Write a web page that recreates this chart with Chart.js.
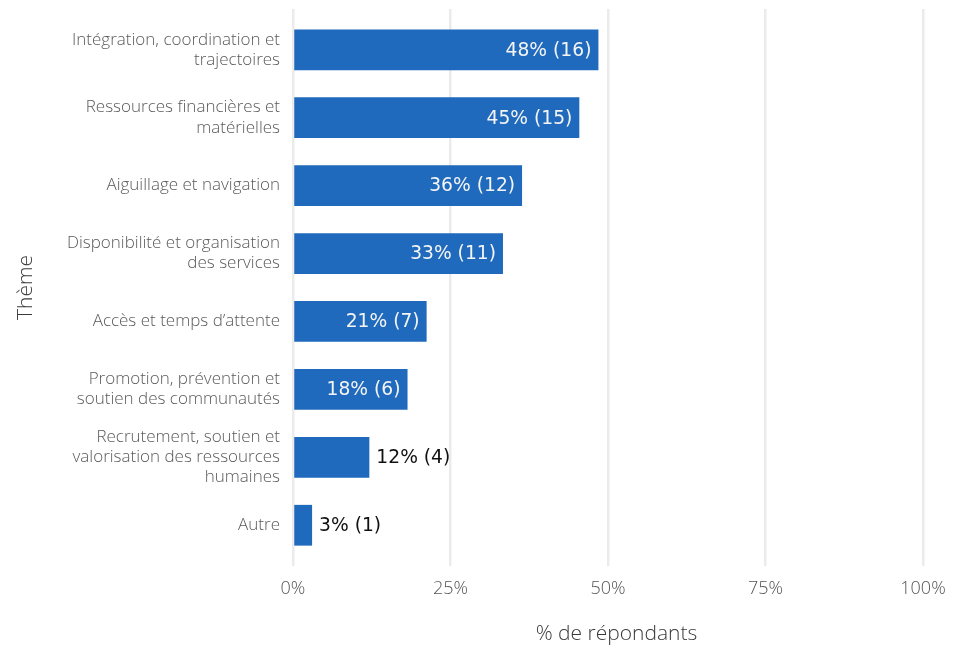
<!DOCTYPE html>
<html lang="fr">
<head>
<meta charset="utf-8">
<script src="https://cdn.jsdelivr.net/npm/chart.js@4"></script>
<style>
  html, body { margin: 0; padding: 0; background: #fff; }
  #wrap { width: 961px; height: 647px; }
</style>
</head>
<body>
<div id="wrap"><canvas id="themes" width="961" height="647"></canvas></div>
<script>
// thèmes (multi-line labels), from top to bottom
const categories = [
  ['Intégration, coordination et', 'trajectoires'],
  ['Ressources financières et', 'matérielles'],
  ['Aiguillage et navigation'],
  ['Disponibilité et organisation', 'des services'],
  ['Accès et temps d\u2019attente'],
  ['Promotion, prévention et', 'soutien des communautés'],
  ['Recrutement, soutien et', 'valorisation des ressources', 'humaines'],
  ['Autre']
];
// % of respondents and number of respondents
const percents = [48.48, 45.45, 36.36, 33.33, 21.21, 18.18, 12.12, 3.03];
const counts = [16, 15, 12, 11, 7, 6, 4, 1];
const xTicks = [0, 25, 50, 75, 100];

const barColor = '#1f6abd';
const labelFont = "'Open Sans', 'Segoe UI', sans-serif";

// value labels: inside the bar (white) when it is wide enough, else just after it
const valueLabels = {
  id: 'valueLabels',
  afterDatasetsDraw(chart) {
    const ctx = chart.ctx;
    const meta = chart.getDatasetMeta(0);
    ctx.save();
    ctx.font = "18.7px 'DejaVu Sans', sans-serif";
    ctx.textBaseline = 'middle';
    meta.data.forEach((bar, i) => {
      const pct = percents[i];
      const txt = Math.round(pct) + '% (' + counts[i] + ')';
      if (pct > 15) {
        ctx.fillStyle = '#f4f4f4';
        ctx.textAlign = 'right';
        ctx.fillText(txt, bar.x - 7, bar.y + 1);
      } else {
        ctx.fillStyle = '#111111';
        ctx.textAlign = 'left';
        ctx.fillText(txt, bar.x + 7, bar.y + 1);
      }
    });
    ctx.restore();
  }
};

new Chart(document.getElementById('themes'), {
  type: 'bar',
  data: {
    datasets: [{
      data: percents.map((p, i) => ({ x: p, y: i + 1 })),
      backgroundColor: barColor,
      borderWidth: 0,
      barPercentage: 0.6,
      categoryPercentage: 1
    }]
  },
  options: {
    indexAxis: 'y',
    responsive: false,
    animation: false,
    layout: { padding: { top: 9, right: 21, bottom: 0, left: 0 } },
    plugins: {
      legend: { display: false },
      tooltip: { enabled: false }
    },
    scales: {
      x: {
        type: 'linear',
        min: 0,
        max: 102.7,
        afterBuildTicks: (scale) => { scale.ticks = xTicks.map(v => ({ value: v })); },
        afterFit: (scale) => { scale.height = 81; },
        grid: { color: '#ebebeb', lineWidth: 2.5, drawTicks: false },
        border: { display: false },
        ticks: {
          padding: 12,
          color: '#555555',
          font: { family: labelFont, size: 18, weight: 300 },
          callback: (v) => v + '%'
        },
        title: {
          display: true,
          text: '% de répondants',
          color: '#3a3a3a',
          padding: { top: 0, bottom: 0 },
          font: { family: labelFont, size: 21, weight: 300 }
        }
      },
      y: {
        type: 'linear',
        reverse: true,
        offset: false,
        min: 0.4,
        max: 8.6,
        afterBuildTicks: (scale) => { scale.ticks = categories.map((c, i) => ({ value: i + 1 })); },
        afterFit: (scale) => {
          scale.width = 293;
          // labels sit well inside the range, no extra room needed above/below
          scale.paddingTop = 0;
          scale.paddingBottom = 0;
        },
        grid: { display: false, drawTicks: false },
        border: { display: false },
        ticks: {
          padding: 13,
          color: '#5a5a5a',
          font: { family: labelFont, size: 17, weight: 300, lineHeight: 1.18 },
          callback: (v) => categories[v - 1]
        },
        title: {
          display: true,
          text: 'Thème',
          color: '#3a3a3a',
          padding: { top: 13, bottom: 0 },
          font: { family: labelFont, size: 21, weight: 300 }
        }
      }
    }
  },
  plugins: [valueLabels]
});
</script>
</body>
</html>
